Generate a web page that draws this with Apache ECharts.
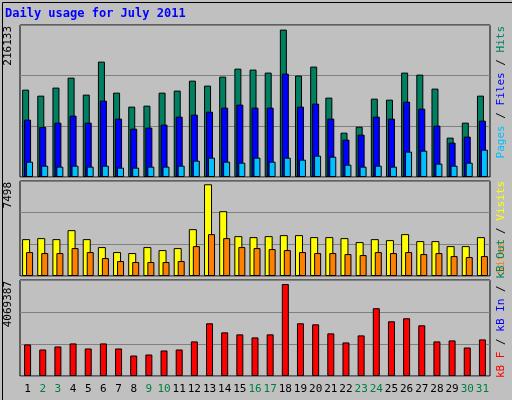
<!DOCTYPE html>
<html><head><meta charset="utf-8">
<script src="https://cdn.jsdelivr.net/npm/echarts@6/dist/echarts.min.js"></script>
<style>html,body{margin:0;padding:0;background:#fff}#c{width:512px;height:400px}</style>
</head><body><div id="c"></div>
<script>
const days = ['1','2','3','4','5','6','7','8','9','10','11','12','13','14','15','16','17','18','19','20','21','22','23','24','25','26','27','28','29','30','31'];
const weekend = ['2','3','9','10','16','17','23','24','30','31'];
const hits = [128100,119300,131100,145700,120800,169200,123700,103200,104600,123700,126700,141300,134000,147200,158900,157500,153100,216133,148700,161900,116400,65000,73800,114900,113400,153100,150100,129600,57700,79700,119300];
const files = [84100,73400,79700,90000,79700,112000,85600,70900,72400,76800,88500,91400,95800,101700,106100,101700,101700,151600,103200,107600,85600,54800,62100,88500,85600,110500,100200,75300,50400,59200,82600];
const pages = [22500,16600,15200,16600,15200,16600,13700,13700,15200,15200,16600,24000,28400,22500,21000,28400,22500,28400,25400,31300,29800,18100,15200,16600,15200,37200,38600,19600,16600,21000,40100];
const visits = [3016,3097,3016,3749,3016,2364,1956,1875,2364,2119,2282,3831,7498,5298,3260,3179,3260,3342,3342,3179,3179,3097,2771,3016,2934,3423,2853,2853,2445,2445,3179];
const sites = [1956,1875,1875,2282,1956,1467,1223,1141,1141,1141,1223,2445,3423,3097,2364,2282,2201,2119,1956,1875,1875,1793,1712,1956,1875,1956,1793,1875,1630,1549,1630];
const kbytes = [1396000,1173000,1307000,1441000,1218000,1441000,1218000,906000,950000,1129000,1173000,1530000,2332000,1931000,1842000,1708000,1842000,4069387,2332000,2287000,1886000,1485000,1797000,3000000,2421000,2555000,2243000,1530000,1574000,1262000,1619000];
const maxLabels = ['216133','7498','4069387'];

const mono = 'DejaVu Sans Mono';
const grids = [
  {left:20,right:22,top:25,height:152},
  {left:20,right:22,top:181,height:95},
  {left:20,right:22,top:280,height:96}
].map(g=>Object.assign(g,{show:true,backgroundColor:'#C0C0C0',borderColor:'#000',borderWidth:1}));
function xa(i){return {type:'category',data:days,gridIndex:i,axisLine:{show:false},axisTick:{show:false},
  axisLabel:{show:i===2,interval:0,margin:8,fontFamily:mono,fontSize:11,
    formatter:v=>weekend.includes(v)?'{w|'+v+'}':'{n|'+v+'}',
    rich:{w:{color:'#008040',fontFamily:mono,fontSize:11},n:{color:'#000',fontFamily:mono,fontSize:11}}}};}
function ya(i,max){return {type:'value',gridIndex:i,min:0,max:max,interval:max/3,axisLabel:{show:false},axisLine:{show:false},axisTick:{show:false},
  splitLine:{lineStyle:{color:'#808080',width:1}}};}
const bs = {borderColor:'#000',borderWidth:1};
const F = '11px "DejaVu Sans Mono"';
const option = {
  animation:false,
  backgroundColor:'#C0C0C0',
  grid:grids,
  xAxis:[xa(0),xa(1),xa(2)],
  yAxis:[ya(0,222900),ya(1,7767),ya(2,4247700)],
  series:[
    {type:'bar',xAxisIndex:0,yAxisIndex:0,data:hits,barWidth:7,barGap:'-72%',itemStyle:Object.assign({color:'#008060'},bs)},
    {type:'bar',xAxisIndex:0,yAxisIndex:0,data:files,barWidth:7,barGap:'-72%',itemStyle:Object.assign({color:'#0000FF'},bs)},
    {type:'bar',xAxisIndex:0,yAxisIndex:0,data:pages,barWidth:7,barGap:'-72%',itemStyle:Object.assign({color:'#00C0FF'},bs)},
    {type:'bar',xAxisIndex:1,yAxisIndex:1,data:visits,barWidth:8,barGap:'-50%',itemStyle:Object.assign({color:'#FFFF00'},bs)},
    {type:'bar',xAxisIndex:1,yAxisIndex:1,data:sites,barWidth:7,barGap:'-50%',itemStyle:Object.assign({color:'#FF8000'},bs)},
    {type:'bar',xAxisIndex:2,yAxisIndex:2,data:kbytes,barWidth:7,itemStyle:Object.assign({color:'#FF0000'},bs)}
  ],
  graphic:[
    {type:'rect',left:0,top:0,shape:{width:511,height:399},style:{fill:'none',stroke:'#000',lineWidth:1},silent:true},
    {type:'text',left:5,top:8,style:{text:'Daily usage for July 2011',fill:'#0000FF',font:'bold 12px "DejaVu Sans Mono"'}},
    {type:'text',x:8,y:26,rotation:Math.PI/2,style:{text:maxLabels[0],fill:'#000',font:F,align:'right',verticalAlign:'middle'}},
    {type:'text',x:8,y:182,rotation:Math.PI/2,style:{text:maxLabels[1],fill:'#000',font:F,align:'right',verticalAlign:'middle'}},
    {type:'text',x:8,y:281,rotation:Math.PI/2,style:{text:maxLabels[2],fill:'#000',font:F,align:'right',verticalAlign:'middle'}},
    {type:'text',x:501,y:26,rotation:Math.PI/2,style:{text:'{a|Pages}{k| / }{b|Files}{k| / }{c|Hits}',align:'right',verticalAlign:'middle',
      rich:{a:{fill:'#00C0FF',font:F},b:{fill:'#0000FF',font:F},c:{fill:'#008060',font:F},k:{fill:'#000',font:F}}}},
    {type:'text',x:501,y:181,rotation:Math.PI/2,style:{text:'{a|Sites}{k| / }{b|Visits}',align:'right',verticalAlign:'middle',
      rich:{a:{fill:'#FF8000',font:F},b:{fill:'#FFFF00',font:F},k:{fill:'#000',font:F}}}},
    {type:'text',x:501,y:378,rotation:Math.PI/2,style:{text:'{a|kB F}{k| / }{b|kB In}{k| / }{c|kB Out}',align:'left',verticalAlign:'middle',
      rich:{a:{fill:'#FF0000',font:F},b:{fill:'#0000FF',font:F},c:{fill:'#008060',font:F},k:{fill:'#000',font:F}}}}
  ]
};
echarts.init(document.getElementById('c')).setOption(option);
</script></body></html>
